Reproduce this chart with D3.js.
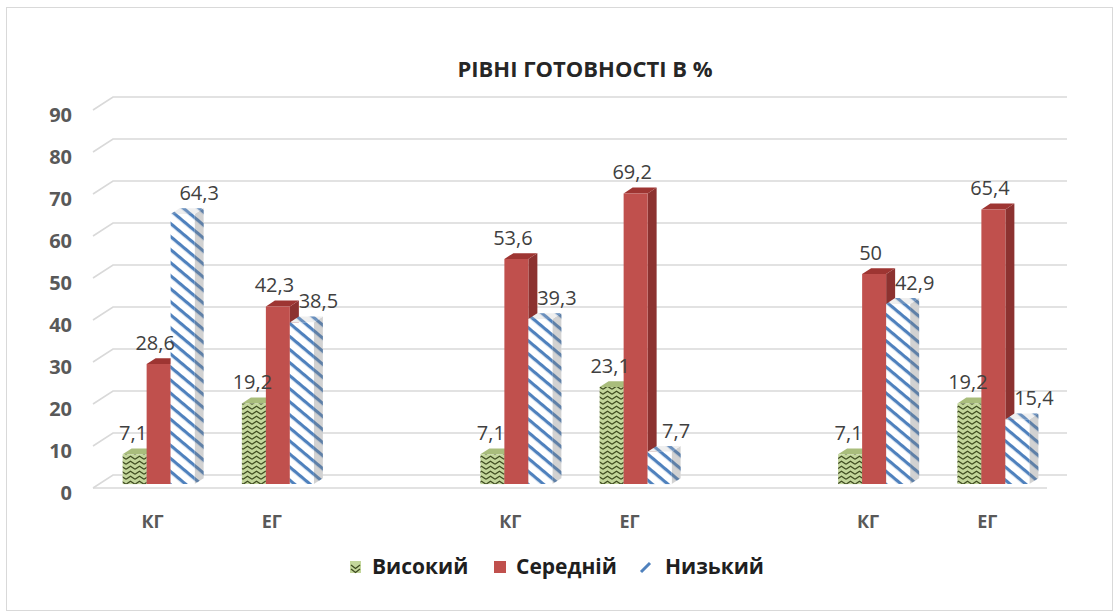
<!DOCTYPE html>
<html>
<head>
<meta charset="utf-8">
<script src="https://cdn.jsdelivr.net/npm/d3@7"></script>
<style>
  body { margin: 0; background: #fff; }
  text { font-family: "Open Sans", Lato, sans-serif; }
</style>
</head>
<body>
<div id="chart"></div>
<script>
// data
const categories = ["КГ", "ЕГ", "", "КГ", "ЕГ", "", "КГ", "ЕГ"];
const seriesNames = ["Високий", "Середній", "Низький"];
const high = [7.1, 19.2, null, 7.1, 23.1, null, 7.1, 19.2];
const mid = [28.6, 42.3, null, 53.6, 69.2, null, 50, 65.4];
const low = [64.3, 38.5, null, 39.3, 7.7, null, 42.9, 15.4];
const yTicks = [0, 10, 20, 30, 40, 50, 60, 70, 80, 90];
const title = "РІВНІ ГОТОВНОСТІ В %";

const W = 1114, H = 613;
const svg = d3.select("#chart").append("svg")
    .attr("width", W)
    .attr("height", H);

// patterns
const defs = svg.append("defs");
const zig = defs.append("pattern")
    .attr("id", "zig")
    .attr("patternUnits", "userSpaceOnUse")
    .attr("width", 9).attr("height", 5);
zig.append("rect").attr("width", 9).attr("height", 5).attr("fill", "#c3d69b");
zig.append("path").attr("d", "M0,4.2 L4.5,1.2 L9,4.2")
    .attr("fill", "none").attr("stroke", "#3d4a1f").attr("stroke-width", 1.3);

const stripe = defs.append("pattern")
    .attr("id", "stripe")
    .attr("patternUnits", "userSpaceOnUse")
    .attr("width", 10).attr("height", 10)
    .attr("patternTransform", "rotate(40)");
stripe.append("rect").attr("width", 10).attr("height", 10).attr("fill", "#fff");
stripe.append("rect").attr("width", 10).attr("height", 3.2).attr("fill", "#4f81bd");

// geometry
const x0 = 93, x1 = 1047;
const DX = 20, DY = 13;          // floor depth offset
const zF = 0.3, zB = 0.75;        // bar front / back depth

const x = d3.scaleBand()
    .domain(d3.range(categories.length))
    .range([x0, x1]);

const y = d3.scaleLinear()
    .domain([0, 90])
    .range([488, 488 - 90 * 4.2]);

const P = (px, v, z) => [px + z * DX, y(v) - z * DY];
const poly = pts => "M" + pts.map(p => p.join(",")).join("L") + "Z";

// outer border
svg.append("rect")
    .attr("x", 6.5).attr("y", 7.5)
    .attr("width", W - 8).attr("height", H - 10)
    .attr("fill", "none").attr("stroke", "#d9d9d9");

// title
svg.append("text")
    .attr("x", 585).attr("y", 69)
    .attr("dy", "0.35em")
    .attr("text-anchor", "middle")
    .attr("font-size", 22).attr("font-weight", "bold")
    .attr("fill", "#262626")
    .text(title);

// gridlines: back wall + left wall
const grid = svg.append("g").attr("class", "grid")
    .attr("stroke", "#d9d9d9").attr("stroke-width", 1.6).attr("fill", "none");
yTicks.forEach(t => {
    const a = P(x0, t, 0), b = P(x0, t, 1), c = P(x1, t, 1);
    grid.append("path").attr("d", `M${a}L${b}L${c}`);
});
grid.append("path").attr("d", `M${P(x0, 0, 0)}L${P(x1, 0, 0)}`);

// y tick labels
svg.append("g").selectAll("text")
    .data(yTicks)
    .join("text")
    .attr("x", 72)
    .attr("y", d => y(d) + 5)
    .attr("dy", "0.35em")
    .attr("text-anchor", "end")
    .attr("font-size", 20).attr("font-weight", "bold")
    .attr("fill", "#595959")
    .text(d => d);

// category labels
svg.append("g").selectAll("text")
    .data(categories.map((c, i) => ({c, i})).filter(d => d.c))
    .join("text")
    .attr("x", d => x(d.i) + x.bandwidth() / 2)
    .attr("y", 522)
    .attr("dy", "0.35em")
    .attr("text-anchor", "middle")
    .attr("font-size", 18).attr("font-weight", "bold")
    .attr("fill", "#595959")
    .text(d => d.c);

// bars
const styles = [
    {front: "url(#zig)", side: "#7f9152", top: "#a9bd7c", shade: 0},
    {front: "#c0504d", side: "#8c3230", top: "#9e3532", shade: 0},
    {front: "url(#stripe)", side: "url(#stripe)", top: "url(#stripe)", shade: 0.35}
];
const series = [high, mid, low];
const groupW = 72, barW = groupW / 3;
const labelShift = [-6, -8, 12];

const bars = [];
categories.forEach((c, i) => {
    series.forEach((s, k) => {
        if (s[i] == null) return;
        bars.push({i, k, v: s[i]});
    });
});

const gBars = svg.append("g").attr("class", "bars");
bars.forEach(d => {
    const st = styles[d.k];
    const left = x(d.i) + x.bandwidth() / 2 - groupW / 2 + d.k * barW;
    const right = left + barW;
    const g = gBars.append("g");
    const side = poly([P(right, 0, zF), P(right, 0, zB), P(right, d.v, zB), P(right, d.v, zF)]);
    const top = poly([P(left, d.v, zF), P(right, d.v, zF), P(right, d.v, zB), P(left, d.v, zB)]);
    g.append("path").attr("d", side).attr("fill", st.side);
    if (st.shade) {
        g.append("path").attr("d", side).attr("fill", "#7f7f7f").attr("opacity", st.shade);
    }
    g.append("path").attr("d", top).attr("fill", st.top);
    if (st.shade) {
        g.append("path").attr("d", top).attr("fill", "#bfbfbf").attr("opacity", 0.25);
    }
    g.append("path")
        .attr("d", poly([P(left, 0, zF), P(right, 0, zF), P(right, d.v, zF), P(left, d.v, zF)]))
        .attr("fill", st.front);
});

// data labels
svg.append("g").selectAll("text")
    .data(bars)
    .join("text")
    .attr("x", d => {
        const left = x(d.i) + x.bandwidth() / 2 - groupW / 2 + d.k * barW;
        return P(left + barW / 2, d.v, (zF + zB) / 2)[0] + labelShift[d.k];
    })
    .attr("y", d => P(0, d.v, zF)[1] - 21)
    .attr("dy", "0.35em")
    .attr("text-anchor", "middle")
    .attr("font-size", 20)
    .attr("fill", "#404040")
    .text(d => String(d.v).replace(".", ","));

// legend
const legend = svg.append("g").attr("class", "legend");
const legendX = [350, 494, 639];
seriesNames.forEach((n, k) => {
    const lg = legend.append("g").attr("transform", `translate(${legendX[k]},561)`);
    if (k === 0) {
        lg.append("rect").attr("width", 11).attr("height", 12).attr("fill", "#c3d69b");
        lg.append("path").attr("d", "M1,4 L5.5,7.5 L10,4 M1,8 L5.5,11.5 L10,8")
            .attr("fill", "none").attr("stroke", "#3d4a1f").attr("stroke-width", 1.3);
    } else if (k === 1) {
        lg.append("rect").attr("width", 12).attr("height", 12).attr("fill", "#c0504d");
    } else {
        lg.append("path").attr("d", "M2,11 L11,2")
            .attr("stroke", "#4f81bd").attr("stroke-width", 3);
    }
    lg.append("text")
        .attr("x", k === 2 ? 26 : 22)
        .attr("y", 6)
        .attr("dy", "0.35em")
        .attr("font-size", 21).attr("font-weight", "bold")
        .attr("fill", "#1f1f1f")
        .text(n);
});
</script>
</body>
</html>
